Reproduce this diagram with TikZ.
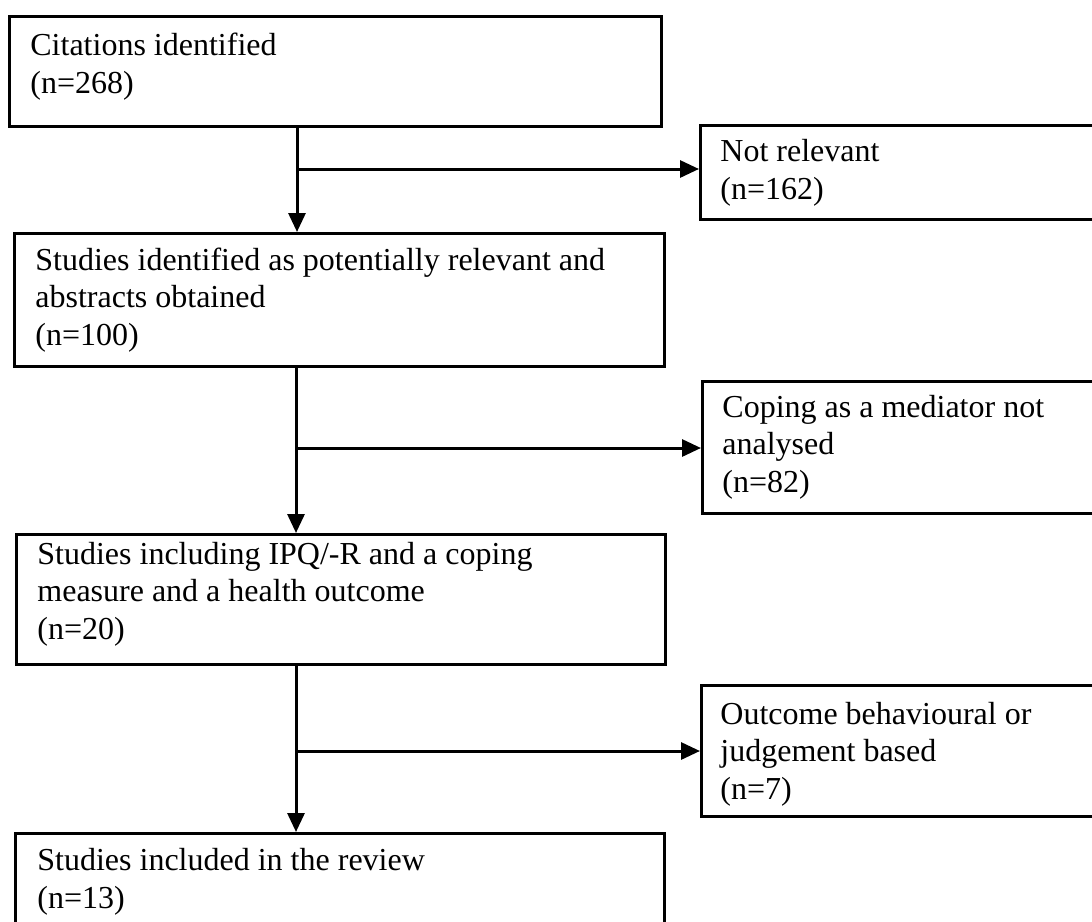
\documentclass[tikz,border=0pt]{standalone}
\usepackage{fontspec}
\setmainfont{Liberation Serif}
\usetikzlibrary{arrows.meta}
\begin{document}
\begin{tikzpicture}[x=0.5pt,y=-0.5pt,
  box/.style={draw, line width=1.6pt, rectangle, inner sep=0pt, anchor=north west},
  lbl/.style={anchor=base west, inner sep=0pt, align=left,
    font=\fontsize{16}{18.75}\selectfont},
  flow/.style={line width=1.5pt, -{Triangle[length=9.5pt,width=8.5pt]}}]
\useasboundingbox (0,0) rectangle (1092,921);
\clip (0,0) rectangle (1092,921);

% main column of stages
\node[box, minimum width=326pt,   minimum height=55pt]   (b1) at (8,15)   {};
\node[box, minimum width=325pt,   minimum height=66.5pt] (b2) at (13,232) {};
\node[box, minimum width=324.5pt, minimum height=65pt]   (b3) at (15,533) {};
\node[box, minimum width=324.5pt, minimum height=84pt]   (b4) at (14,832) {};

% exclusion boxes on the right
\node[box, minimum width=250pt, minimum height=47pt]   (nr) at (699,124) {};
\node[box, minimum width=250pt, minimum height=66pt]   (cm) at (701,380) {};
\node[box, minimum width=250pt, minimum height=65.5pt] (ob) at (700,684) {};

% box texts (placed by the baseline of their last line)
\node[lbl] (t1) at (30,93)  {Citations identified\\(n=268)};
\node[lbl] (t2) at (35,345) {Studies identified as potentially relevant and\\abstracts obtained\\(n=100)};
\node[lbl] (t3) at (37,639) {Studies including IPQ/-R and a coping\\measure and a health outcome\\(n=20)};
\node[lbl] (t4) at (37,908) {Studies included in the review\\(n=13)};
\node[lbl] (tn) at (720,199) {Not relevant\\(n=162)};
\node[lbl] (tc) at (722,492) {Coping as a mediator not\\analysed\\(n=82)};
\node[lbl] (to) at (720,799) {Outcome behavioural or\\judgement based\\(n=7)};

% junctions where the exclusions branch off
\coordinate (j1) at (297,169);
\coordinate (j2) at (296,448);
\coordinate (j3) at (296,751);

% connectors
\draw[flow] (b1.south west -| j1) -- (b2.north west -| j1);
\draw[flow] (j1) -- (j1 -| nr.west);
\draw[flow] (b2.south west -| j2) -- (b3.north west -| j2);
\draw[flow] (j2) -- (j2 -| cm.west);
\draw[flow] (b3.south west -| j3) -- (b4.north west -| j3);
\draw[flow] (j3) -- (j3 -| ob.west);
\end{tikzpicture}
\end{document}
